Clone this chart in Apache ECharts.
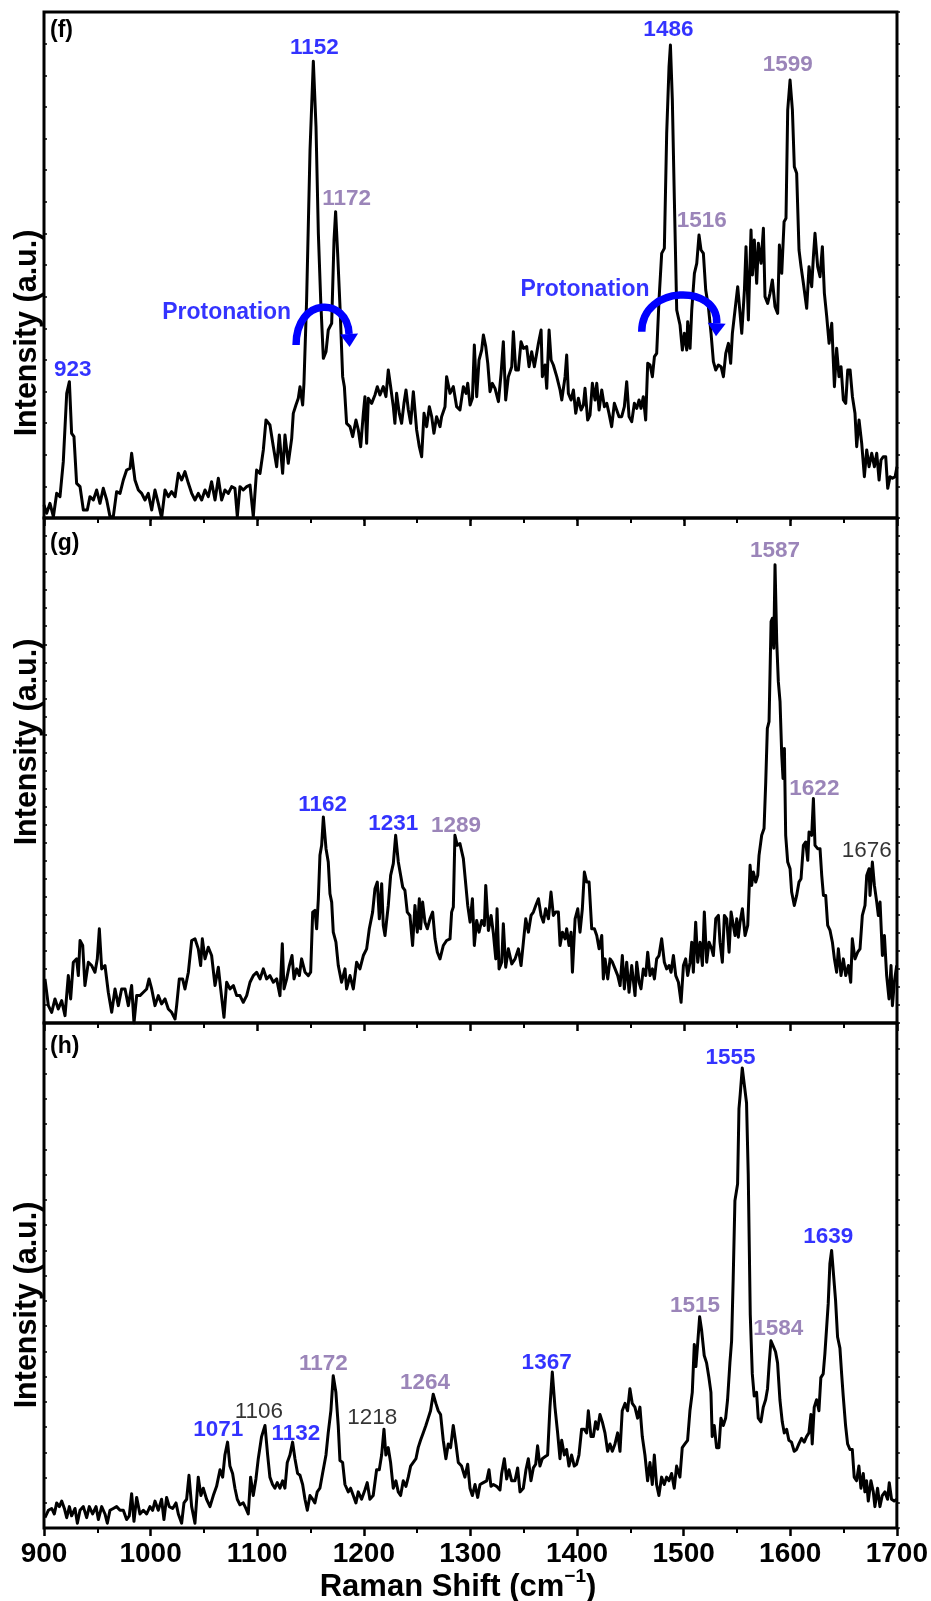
<!DOCTYPE html>
<html>
<head>
<meta charset="utf-8">
<script src="https://cdn.jsdelivr.net/npm/echarts@6/dist/echarts.min.js"></script>
<style>
html,body{margin:0;padding:0;background:#fff;}
#chart{width:931px;height:1601px;}
</style>
</head>
<body>
<div id="chart"></div>
<script>
// ---------- data (wavenumber cm^-1, intensity a.u.) ----------
const xTicks = [900, 1000, 1100, 1200, 1300, 1400, 1500, 1600, 1700];

const fSpectrum = [[900.0,39],[902.5,14],[905.6,44],[908.8,4],[911.9,74],[915.0,64],[918.1,169],[919.7,174],[921.3,374],[923.8,409],[925.9,254],[928.1,244],[930.6,104],[933.8,94],[936.9,24],[940.6,24],[943.1,64],[946.3,54],[949.4,84],[952.5,44],[955.6,89],[958.8,54],[961.9,4],[965.0,4],[968.1,79],[971.3,74],[974.4,114],[977.5,144],[980.7,149],[982.2,194],[985.3,114],[988.5,84],[991.6,74],[994.7,54],[997.8,74],[1001.0,24],[1004.1,84],[1007.2,44],[1010.3,0],[1013.5,84],[1016.6,64],[1019.7,79],[1022.9,64],[1026.0,134],[1029.1,114],[1032.2,139],[1035.4,104],[1038.5,74],[1041.6,54],[1044.7,74],[1047.9,54],[1051.0,84],[1054.1,64],[1057.2,109],[1060.4,54],[1063.5,119],[1066.6,54],[1069.7,84],[1072.9,74],[1076.0,94],[1079.1,89],[1081.3,4],[1083.8,94],[1086.9,84],[1090.1,94],[1093.2,99],[1096.3,4],[1099.4,144],[1102.6,134],[1105.7,204],[1108.2,294],[1111.9,279],[1115.1,214],[1118.2,154],[1120.7,249],[1123.8,134],[1126.0,249],[1129.1,164],[1132.3,239],[1133.8,314],[1136.3,339],[1138.5,359],[1140.1,394],[1142.6,339],[1143.8,404],[1146.3,654],[1149.5,1104],[1152.6,1370],[1155.1,1174],[1157.3,854],[1159.5,654],[1162.0,479],[1164.5,499],[1166.6,564],[1169.8,584],[1172.0,834],[1173.5,919],[1175.4,794],[1177.6,634],[1180.1,424],[1181.7,394],[1183.8,284],[1187.0,274],[1189.5,244],[1192.6,294],[1194.8,264],[1197.0,214],[1199.5,314],[1201.0,364],[1202.6,224],[1204.2,359],[1207.3,344],[1210.4,369],[1212.6,394],[1215.1,369],[1218.2,394],[1220.7,364],[1222.9,444],[1225.1,394],[1227.6,334],[1229.1,284],[1230.7,374],[1233.2,314],[1235.4,284],[1237.6,344],[1239.5,384],[1241.7,324],[1243.9,284],[1246.4,379],[1249.5,264],[1252.0,214],[1254.2,184],[1256.4,314],[1258.9,274],[1261.4,334],[1263.6,304],[1265.7,254],[1268.2,304],[1271.4,274],[1272.9,304],[1276.1,334],[1277.6,424],[1280.8,374],[1283.9,394],[1287.0,334],[1290.1,324],[1293.3,394],[1295.9,374],[1297.4,404],[1299.6,339],[1301.8,359],[1303.6,519],[1305.8,364],[1308.0,474],[1310.5,504],[1312.1,549],[1314.3,514],[1316.2,464],[1318.3,379],[1320.5,404],[1323.0,389],[1326.2,349],[1328.7,434],[1330.8,529],[1333.0,354],[1335.5,424],[1338.7,454],[1340.2,559],[1342.4,444],[1344.9,444],[1347.4,529],[1349.6,509],[1352.7,514],[1354.9,454],[1357.4,499],[1359.9,454],[1362.1,494],[1363.7,524],[1366.2,564],[1367.4,424],[1369.9,459],[1371.5,389],[1373.7,564],[1375.6,474],[1377.7,459],[1380.9,424],[1384.0,384],[1385.6,354],[1388.7,424],[1390.2,489],[1391.8,374],[1394.3,354],[1396.5,384],[1398.7,314],[1401.2,359],[1403.7,324],[1405.9,339],[1407.4,389],[1409.9,294],[1412.1,309],[1414.3,404],[1416.8,354],[1418.4,404],[1420.6,324],[1423.1,384],[1425.6,334],[1427.8,344],[1429.9,314],[1432.4,274],[1434.9,344],[1437.1,324],[1439.3,304],[1441.8,304],[1444.3,334],[1446.5,409],[1448.7,304],[1451.2,289],[1453.7,344],[1455.9,329],[1458.1,354],[1459.9,329],[1462.1,364],[1464.3,294],[1466.2,464],[1468.4,459],[1470.6,424],[1472.5,484],[1474.6,494],[1476.8,654],[1479.3,794],[1481.8,809],[1484.0,1154],[1486.2,1354],[1487.5,1419],[1489.3,1254],[1491.2,954],[1493.4,624],[1496.5,579],[1498.7,504],[1500.6,554],[1502.8,504],[1503.7,589],[1505.9,509],[1507.5,624],[1510.0,734],[1512.2,764],[1514.3,849],[1516.2,804],[1518.4,794],[1520.6,684],[1523.1,634],[1525.6,554],[1527.8,469],[1530.0,444],[1532.5,459],[1535.0,454],[1537.2,424],[1539.4,494],[1541.9,524],[1544.0,464],[1545.6,554],[1548.1,624],[1550.6,694],[1552.8,614],[1554.4,554],[1556.9,684],[1558.4,814],[1560.6,594],[1563.1,864],[1564.4,729],[1566.2,834],[1568.4,704],[1570.0,824],[1572.5,764],[1574.7,869],[1576.2,664],[1578.7,644],[1580.9,674],[1583.1,714],[1585.6,634],[1588.1,614],[1589.7,819],[1591.9,734],[1594.1,889],[1595.9,899],[1597.5,1224],[1599.7,1314],[1601.9,1224],[1603.7,1054],[1605.9,1034],[1608.1,804],[1610.0,754],[1612.2,704],[1613.7,699],[1615.3,629],[1617.5,754],[1620.0,694],[1621.6,784],[1623.1,854],[1625.6,754],[1627.8,724],[1630.0,814],[1631.9,674],[1634.1,604],[1636.3,524],[1638.8,584],[1641.3,394],[1643.4,509],[1645.6,424],[1647.5,454],[1649.7,354],[1651.9,344],[1653.8,444],[1656.0,444],[1658.2,364],[1660.6,314],[1662.2,214],[1664.4,294],[1666.9,224],[1669.4,124],[1671.6,204],[1673.8,154],[1676.3,194],[1678.8,154],[1681.0,194],[1683.2,114],[1685.0,174],[1687.2,184],[1689.4,184],[1691.3,89],[1693.5,124],[1695.7,119],[1698.2,124],[1700.0,154]];

const gSpectrum = [[900.9,132],[904.1,52],[907.2,32],[910.3,72],[913.4,42],[916.6,67],[919.7,22],[922.8,142],[925.0,72],[927.5,182],[930.6,192],[932.2,142],[933.8,247],[936.3,232],[938.4,112],[941.6,182],[944.7,172],[947.8,152],[950.0,192],[951.9,282],[954.1,162],[957.2,172],[960.3,92],[963.5,32],[966.6,102],[969.7,52],[972.8,102],[976.0,102],[979.1,52],[982.2,112],[984.4,0],[986.9,82],[990.0,82],[993.2,92],[996.3,102],[998.5,132],[1001.0,102],[1004.1,52],[1007.2,82],[1010.3,57],[1013.5,72],[1016.6,42],[1019.7,32],[1022.9,12],[1024.4,52],[1026.9,132],[1030.0,132],[1032.2,102],[1035.4,152],[1038.5,247],[1041.6,252],[1044.7,222],[1046.9,172],[1048.5,252],[1051.0,192],[1054.1,227],[1057.2,202],[1060.4,112],[1063.5,167],[1065.7,102],[1068.8,17],[1071.3,122],[1074.4,102],[1077.6,112],[1080.7,82],[1083.8,82],[1086.9,62],[1090.1,82],[1093.2,122],[1096.3,142],[1099.4,152],[1102.6,132],[1105.7,162],[1108.8,132],[1111.9,142],[1115.1,122],[1118.2,132],[1121.3,82],[1123.5,237],[1125.1,102],[1127.6,132],[1130.1,172],[1132.6,202],[1134.5,132],[1137.0,162],[1139.5,142],[1141.6,192],[1144.8,152],[1147.9,142],[1150.1,152],[1152.0,332],[1154.1,337],[1155.7,282],[1157.3,372],[1158.8,502],[1160.4,532],[1162.0,617],[1164.5,522],[1166.6,482],[1168.2,387],[1169.8,362],[1171.3,272],[1173.8,242],[1176.0,172],[1179.1,122],[1182.3,162],[1183.8,102],[1187.0,142],[1190.1,102],[1193.2,182],[1196.3,162],[1199.5,202],[1202.6,222],[1205.1,282],[1208.2,332],[1210.4,402],[1212.6,422],[1214.5,312],[1216.7,417],[1218.2,292],[1219.8,262],[1222.9,352],[1225.1,442],[1227.6,477],[1229.8,562],[1232.3,482],[1233.9,477],[1236.4,407],[1238.5,397],[1240.7,332],[1243.2,322],[1245.7,232],[1247.9,352],[1250.1,272],[1252.0,372],[1253.2,282],[1255.1,362],[1257.3,302],[1259.5,282],[1262.0,312],[1264.5,332],[1266.7,252],[1268.9,212],[1271.4,192],[1274.5,232],[1277.6,247],[1280.8,252],[1282.3,332],[1283.9,347],[1285.4,562],[1287.6,532],[1290.1,537],[1293.3,492],[1297.4,352],[1299.6,302],[1301.8,372],[1303.6,232],[1305.8,307],[1308.0,272],[1310.5,307],[1313.0,292],[1314.3,412],[1316.8,277],[1319.3,322],[1321.5,267],[1323.7,192],[1324.9,342],[1326.8,162],[1329.3,182],[1330.8,297],[1333.0,167],[1335.5,222],[1338.7,177],[1341.8,192],[1344.9,222],[1347.4,172],[1349.6,242],[1351.8,312],[1354.3,272],[1356.8,322],[1359.0,332],[1361.2,352],[1363.7,372],[1366.2,322],[1368.4,302],[1370.5,342],[1373.1,312],[1375.5,392],[1377.7,322],[1379.9,332],[1382.4,332],[1384.0,232],[1386.2,272],[1388.7,252],[1390.2,282],[1392.4,232],[1394.3,272],[1395.6,152],[1398.1,312],[1400.6,342],[1402.7,272],[1404.9,342],[1406.8,452],[1409.0,422],[1411.2,422],[1413.7,282],[1416.2,282],[1418.4,262],[1420.6,222],[1423.1,262],[1424.6,132],[1426.2,192],[1428.7,132],[1430.9,192],[1433.1,182],[1435.6,162],[1438.1,142],[1440.3,112],[1442.4,202],[1444.3,102],[1446.5,182],[1448.7,92],[1451.2,172],[1454.3,82],[1455.9,182],[1458.1,122],[1459.9,102],[1462.1,162],[1464.3,142],[1466.2,212],[1468.4,142],[1470.6,162],[1472.5,132],[1474.6,192],[1476.8,202],[1479.3,252],[1481.8,182],[1484.0,162],[1486.2,172],[1488.1,152],[1490.3,202],[1492.5,142],[1495.0,122],[1497.5,62],[1499.7,172],[1501.8,192],[1503.7,142],[1505.9,182],[1507.5,242],[1509.0,152],[1511.2,302],[1513.1,182],[1515.3,242],[1517.5,172],[1519.3,332],[1521.5,182],[1523.7,242],[1526.2,222],[1527.8,202],[1530.0,312],[1532.5,322],[1534.0,242],[1536.2,182],[1538.1,322],[1540.3,312],[1542.5,212],[1544.4,332],[1546.5,292],[1548.1,262],[1549.7,312],[1551.2,257],[1552.8,302],[1555.0,342],[1557.5,262],[1560.0,292],[1562.2,472],[1563.7,412],[1565.3,452],[1567.5,422],[1569.4,442],[1570.6,502],[1573.1,562],[1575.3,582],[1576.9,722],[1578.4,882],[1580.0,902],[1581.9,1202],[1583.1,1212],[1584.4,1122],[1585.6,1372],[1587.2,1142],[1588.7,1022],[1590.3,962],[1591.9,802],[1593.1,732],[1594.4,822],[1595.6,562],[1597.5,482],[1599.7,462],[1601.2,392],[1603.7,352],[1605.9,382],[1608.1,422],[1610.0,432],[1612.2,532],[1614.4,542],[1616.3,487],[1617.5,572],[1620.0,562],[1621.6,672],[1623.1,532],[1625.6,522],[1627.8,522],[1629.4,442],[1631.0,382],[1633.1,382],[1635.0,292],[1637.2,277],[1639.4,242],[1641.3,192],[1643.4,152],[1645.0,222],[1647.5,142],[1649.7,192],[1651.9,142],[1654.4,172],[1656.6,122],[1658.1,252],[1660.6,192],[1663.1,212],[1665.3,222],[1667.5,322],[1670.0,352],[1671.6,442],[1673.8,462],[1674.7,382],[1676.9,482],[1678.8,412],[1681.0,362],[1682.5,322],[1684.1,362],[1686.3,202],[1688.2,262],[1690.3,142],[1692.5,72],[1694.4,172],[1695.7,52],[1697.5,122],[1699.7,172]];

const hSpectrum = [[900.9,28],[904.1,48],[907.2,53],[909.7,38],[911.9,68],[914.4,58],[916.6,73],[919.1,53],[921.3,28],[923.8,58],[925.9,33],[929.1,53],[931.3,13],[933.8,48],[936.9,58],[940.0,28],[942.5,58],[945.6,38],[948.8,58],[951.0,23],[954.1,58],[957.2,38],[959.4,13],[961.9,48],[965.0,53],[968.1,58],[971.3,48],[974.4,48],[977.5,23],[980.0,33],[982.2,93],[984.4,18],[986.9,83],[990.0,38],[993.2,48],[996.3,38],[999.4,58],[1001.9,48],[1004.1,73],[1007.2,48],[1010.3,78],[1012.5,23],[1015.0,83],[1017.5,58],[1020.7,53],[1023.8,68],[1026.0,38],[1029.1,13],[1031.3,68],[1033.8,78],[1036.0,143],[1038.5,58],[1041.6,13],[1044.7,138],[1047.2,88],[1049.4,108],[1052.5,78],[1055.7,58],[1058.8,88],[1061.9,113],[1065.1,158],[1067.6,138],[1069.7,198],[1072.2,233],[1074.4,168],[1076.9,148],[1079.1,108],[1081.3,78],[1083.8,63],[1086.9,68],[1089.4,53],[1091.6,38],[1093.8,138],[1096.3,88],[1098.8,133],[1101.0,188],[1104.1,248],[1107.3,278],[1109.8,198],[1111.9,138],[1114.4,118],[1116.6,108],[1118.8,123],[1121.3,108],[1123.8,128],[1126.0,108],[1128.2,178],[1130.7,198],[1133.2,233],[1135.4,188],[1137.9,148],[1140.1,143],[1142.6,118],[1144.8,78],[1147.0,48],[1149.5,88],[1152.0,78],[1154.1,68],[1156.3,98],[1158.8,108],[1161.3,148],[1164.5,198],[1166.6,258],[1169.1,318],[1171.3,413],[1173.8,368],[1176.0,278],[1177.6,183],[1180.1,178],[1182.3,118],[1185.4,98],[1187.6,108],[1190.1,88],[1192.6,68],[1194.8,98],[1197.9,78],[1201.0,103],[1203.2,123],[1205.7,78],[1208.8,88],[1212.0,158],[1214.5,158],[1216.7,198],[1218.9,268],[1220.7,198],[1222.9,218],[1225.1,178],[1227.6,108],[1230.1,128],[1232.3,98],[1234.5,88],[1237.0,128],[1239.5,113],[1241.7,138],[1243.9,168],[1246.4,178],[1248.9,188],[1251.0,218],[1253.2,238],[1255.7,258],[1258.2,278],[1260.4,298],[1262.6,318],[1265.1,363],[1267.6,338],[1269.8,318],[1272.0,308],[1274.5,238],[1277.0,188],[1279.2,228],[1281.4,218],[1283.9,278],[1286.4,228],[1288.6,178],[1291.7,168],[1294.8,138],[1297.4,173],[1299.6,108],[1301.8,88],[1304.3,118],[1306.8,83],[1309.0,118],[1312.1,123],[1315.2,128],[1317.4,158],[1319.3,113],[1321.5,118],[1324.6,113],[1327.7,103],[1329.3,148],[1331.8,188],[1334.0,133],[1336.2,158],[1338.7,128],[1341.8,128],[1344.3,163],[1346.5,98],[1349.6,108],[1352.1,158],[1354.3,188],[1356.8,128],[1359.0,163],[1361.2,173],[1363.0,223],[1365.2,168],[1367.4,188],[1369.9,193],[1372.4,198],[1374.6,328],[1376.8,423],[1379.3,328],[1381.8,258],[1384.0,188],[1385.6,238],[1388.1,198],[1390.2,213],[1392.4,168],[1394.9,198],[1397.4,168],[1399.6,173],[1401.8,198],[1404.3,268],[1406.8,268],[1409.0,258],[1410.6,318],[1413.1,248],[1415.3,248],[1417.4,288],[1419.3,268],[1421.5,308],[1423.7,288],[1426.2,258],[1428.7,208],[1430.9,228],[1433.1,208],[1435.6,228],[1438.1,258],[1440.3,208],[1442.4,318],[1445.0,338],[1447.4,318],[1449.6,378],[1451.8,338],[1454.3,328],[1456.8,298],[1459.0,328],[1461.2,248],[1463.7,198],[1466.2,128],[1468.4,178],[1470.6,118],[1472.5,198],[1474.6,118],[1476.8,88],[1479.3,138],[1481.8,118],[1484.0,138],[1486.2,128],[1488.7,148],[1491.2,108],[1493.4,168],[1496.5,138],[1498.7,218],[1501.2,228],[1503.7,238],[1505.9,318],[1508.1,368],[1510.0,498],[1511.5,438],[1513.1,498],[1515.0,573],[1516.8,538],[1519.3,468],[1521.5,448],[1523.7,408],[1525.6,368],[1526.8,248],[1528.7,278],[1530.9,218],[1533.1,218],[1535.0,298],[1537.2,278],[1539.4,298],[1541.2,348],[1543.4,448],[1545.0,508],[1546.5,678],[1548.1,888],[1550.6,933],[1551.9,1138],[1553.1,1178],[1555.0,1248],[1556.9,1203],[1559.0,1153],[1560.6,958],[1562.5,578],[1564.4,418],[1566.2,358],[1568.4,368],[1570.0,298],[1572.5,288],[1574.7,328],[1576.9,348],[1578.7,378],[1580.3,448],[1581.9,508],[1584.1,493],[1586.2,478],[1588.1,448],[1590.3,348],[1592.5,288],[1594.4,258],[1596.6,268],[1598.7,238],[1601.2,233],[1603.7,208],[1605.9,213],[1608.1,228],[1610.6,243],[1613.1,233],[1615.3,248],[1617.5,258],[1619.4,308],[1620.6,228],[1622.5,328],[1624.7,348],[1626.9,318],[1628.7,408],[1630.9,418],[1632.5,473],[1634.1,478],[1635.6,608],[1637.2,718],[1638.8,753],[1640.6,748],[1642.5,618],[1644.4,518],[1646.6,488],[1648.2,418],[1649.7,358],[1651.9,278],[1653.8,228],[1656.0,213],[1658.2,213],[1660.0,138],[1662.2,128],[1664.4,168],[1666.3,108],[1668.5,148],[1670.0,98],[1671.6,128],[1673.2,73],[1675.7,128],[1677.9,98],[1679.4,58],[1681.9,108],[1684.1,58],[1686.3,88],[1688.8,98],[1691.3,78],[1692.9,123],[1695.0,78],[1697.5,73],[1700.0,78]];

// peak annotations (text, anchor wavenumber, anchor intensity, colour class)
const fLabelText = ['923','1152','1172','1486','1516','1599','Protonation','Protonation'];
const fLabelWn   = [926.9, 1153.5, 1183.8, 1485.6, 1516.8, 1597.5, 1071.3, 1407.4];
const fLabelInt  = [446, 1411, 957, 1464, 892, 1359, 617, 684];
const fLabelKind = ['blue','blue','purple','blue','purple','purple','blue','blue'];

const gLabelText = ['1162','1231','1289','1587','1622','1676'];
const gLabelWn   = [1161.3, 1227.6, 1286.5, 1585.6, 1622.5, 1671.6];
const gLabelInt  = [652, 597, 590, 1414, 700, 517];
const gLabelKind = ['blue','blue','purple','purple','purple','black'];

const hLabelText = ['1071','1106','1132','1172','1218','1264','1367','1515','1555','1584','1639'];
const hLabelWn   = [1063.5, 1101.6, 1136.3, 1162.0, 1207.9, 1257.3, 1371.5, 1510.6, 1544.0, 1588.7, 1635.6];
const hLabelInt  = [266, 316, 256, 446, 298, 393, 448, 603, 1275, 540, 790];
const hLabelKind = ['blue','black','blue','purple','black','purple','blue','purple','blue','purple','blue'];

// protonation arrows: [start wn, start int, top wn, top int, end wn, end int]
const fArrows = [[1136.4, 519, 1160.7, 632, 1186.1, 552], [1460.6, 559, 1496.5, 669, 1530.9, 584]];

const panelNames = ['(f)', '(g)', '(h)'];
const yMax = [1518, 1512, 1370];
const yDivisions = [16, 28, 20];

// ---------- chart ----------
const FONT = '"Liberation Sans", Arial, Helvetica, sans-serif';
const COLORS = {blue: '#0000ff', purple: '#8266a8', black: '#000000'};
const gridTops = [12, 518, 1023];
const gridHeights = [506, 505, 505];
const spectra = [fSpectrum, gSpectrum, hSpectrum];
const labelSets = [
  [fLabelText, fLabelWn, fLabelInt, fLabelKind],
  [gLabelText, gLabelWn, gLabelInt, gLabelKind],
  [hLabelText, hLabelWn, hLabelInt, hLabelKind]
];

const chart = echarts.init(document.getElementById('chart'), null, {renderer: 'canvas'});

const grid = [], xAxis = [], yAxis = [], series = [];
for (let i = 0; i < 3; i++) {
  grid.push({left: 44, top: gridTops[i], width: 853, height: gridHeights[i],
    show: true, borderColor: '#000', borderWidth: 3, backgroundColor: 'transparent'});
  xAxis.push({
    type: 'value', gridIndex: i, position: 'bottom', min: xTicks[0], max: xTicks[xTicks.length - 1], interval: 100,
    axisLine: {show: false},
    axisTick: {show: true, inside: false, length: 8, lineStyle: {color: '#000', width: 2.5}},
    minorTick: {show: true, splitNumber: 2, length: 5, lineStyle: {color: '#000', width: 2}},
    splitLine: {show: false}, minorSplitLine: {show: false},
    axisLabel: {show: i === 2, color: '#000', fontSize: 28, fontWeight: 'bold', fontFamily: FONT, margin: 12,
      formatter: v => String(v)}
  });
  yAxis.push({
    type: 'value', gridIndex: i, position: 'left', min: 0, max: yMax[i], interval: yMax[i] / yDivisions[i],
    axisLine: {show: false}, axisLabel: {show: false}, splitLine: {show: false},
    axisTick: {show: true, inside: true, length: 3, lineStyle: {color: '#000', width: 1.5}}
  });
  yAxis.push({
    type: 'value', gridIndex: i, position: 'right', min: 0, max: yMax[i], interval: yMax[i] / yDivisions[i],
    axisLine: {show: false}, axisLabel: {show: false}, splitLine: {show: false},
    axisTick: {show: true, inside: false, length: 3, lineStyle: {color: '#000', width: 1.5}}
  });
  series.push({
    type: 'line', xAxisIndex: i, yAxisIndex: 2 * i, data: spectra[i],
    showSymbol: false, symbol: 'none', smooth: false, clip: true,
    lineStyle: {color: '#000', width: 3, join: 'round'}, z: 3, silent: true
  });
  const ls = labelSets[i];
  const items = ls[0].map((t, k) => ({
    value: [ls[1][k], ls[2][k]], name: t,
    label: {color: COLORS[ls[3][k]], fontWeight: ls[3][k] === 'black' ? 'normal' : 'bold',
      fontSize: t === 'Protonation' ? 23 : 22.5}
  }));
  series.push({
    type: 'scatter', xAxisIndex: i, yAxisIndex: 2 * i, data: items, symbolSize: 1,
    itemStyle: {color: 'transparent'}, silent: true, z: 5,
    label: {show: true, position: 'inside', formatter: p => p.name, fontFamily: FONT,
      align: 'center', verticalAlign: 'middle'}
  });
}
// tiny ticks along the top frame of panel (f)
xAxis.push({type: 'value', gridIndex: 0, position: 'top', min: 900, max: 1700, interval: 50,
  axisLine: {show: false}, axisLabel: {show: false}, splitLine: {show: false},
  axisTick: {show: true, inside: true, length: 3, lineStyle: {color: '#000', width: 1.5}}});

// curved protonation arrows drawn through the axes' coordinate system
series.push({
  type: 'custom', xAxisIndex: 0, yAxisIndex: 0, data: fArrows, silent: true, z: 6, clip: false,
  encode: {x: [0, 2, 4], y: [1, 3, 5]},
  renderItem: function (params, api) {
    const p0 = api.coord([api.value(0), api.value(1)]);
    const pt = api.coord([api.value(2), api.value(3)]);
    const p1 = api.coord([api.value(4), api.value(5)]);
    const c1x = p0[0];
    const c2x = (8 * pt[0] - 4 * p0[0] - p1[0]) / 3;
    const cy = (8 * pt[1] - p0[1] - p1[1]) / 6;
    let dx = p1[0] - c2x, dy = p1[1] - cy;
    const len = Math.sqrt(dx * dx + dy * dy);
    dx /= len; dy /= len;
    const nx = -dy, ny = dx;
    const head = 13, half = 9;
    const tip = [p1[0] + dx * head, p1[1] + dy * head];
    const b1 = [p1[0] + nx * half, p1[1] + ny * half];
    const b2 = [p1[0] - nx * half, p1[1] - ny * half];
    return {
      type: 'group',
      children: [
        {type: 'bezierCurve', shape: {x1: p0[0], y1: p0[1], cpx1: c1x, cpy1: cy, cpx2: c2x, cpy2: cy, x2: p1[0], y2: p1[1]},
          style: {stroke: COLORS.blue, lineWidth: 7.5, fill: null, lineCap: 'butt'}},
        {type: 'polygon', shape: {points: [tip, b1, b2]}, style: {fill: COLORS.blue, stroke: null}}
      ]
    };
  }
});

const graphic = [];
const yTitleCenters = [333, 742, 1305];
const panelLabelY = [31, 544, 1047];
for (let i = 0; i < 3; i++) {
  graphic.push({type: 'text', x: 28, y: yTitleCenters[i], rotation: Math.PI / 2, silent: true,
    style: {text: 'Intensity (a.u.)', fill: '#000', font: 'bold 30.5px ' + FONT, align: 'center', verticalAlign: 'middle'}});
  graphic.push({type: 'text', x: 50, y: panelLabelY[i], silent: true,
    style: {text: panelNames[i], fill: '#000', font: 'bold 23px ' + FONT, align: 'left', verticalAlign: 'middle'}});
}
graphic.push({type: 'text', x: 458, y: 1585, silent: true,
  style: {
    text: '{a|Raman Shift (cm}{s|\u22121}{a|)}', align: 'center', verticalAlign: 'middle',
    rich: {
      a: {fill: '#000', color: '#000', fontSize: 31, fontWeight: 'bold', fontFamily: FONT, lineHeight: 36, verticalAlign: 'bottom'},
      s: {fill: '#000', color: '#000', fontSize: 19, fontWeight: 'bold', fontFamily: FONT, lineHeight: 20, verticalAlign: 'top'}
    }
  }});

chart.setOption({
  animation: false,
  backgroundColor: '#fff',
  grid: grid, xAxis: xAxis, yAxis: yAxis, series: series, graphic: graphic
});
</script>
</body>
</html>
